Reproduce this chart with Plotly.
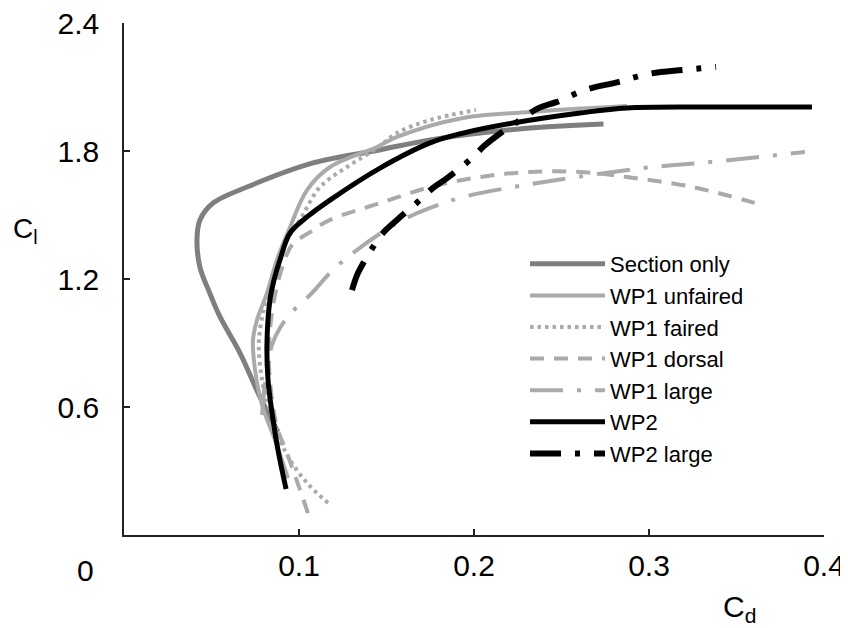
import plotly.graph_objects as go

# ---- data (Cd, Cl) ----
section_cd = [0.088, 0.0777, 0.0663, 0.0549, 0.049, 0.0434, 0.0417, 0.0434, 0.0509, 0.0703, 0.108, 0.146, 0.175, 0.232, 0.274]
section_cl = [0.483, 0.647, 0.853, 1.022, 1.134, 1.256, 1.383, 1.477, 1.556, 1.631, 1.744, 1.805, 1.852, 1.908, 1.927]

unfaired_cd = [0.0937, 0.0863, 0.0789, 0.0749, 0.0737, 0.076, 0.0817, 0.0874, 0.0949, 0.1046, 0.1177, 0.1446, 0.156, 0.1937, 0.232, 0.2874]
unfaired_cl = [0.267, 0.445, 0.609, 0.773, 0.914, 1.008, 1.134, 1.289, 1.444, 1.617, 1.725, 1.819, 1.866, 1.955, 1.983, 2.011]

faired_cd = [0.1166, 0.1046, 0.0949, 0.0891, 0.0834, 0.0789, 0.0771, 0.0812, 0.0874, 0.0931, 0.1006, 0.112, 0.1274, 0.1446, 0.156, 0.1749, 0.2011]
faired_cl = [0.15, 0.244, 0.352, 0.445, 0.586, 0.727, 0.914, 1.102, 1.266, 1.383, 1.477, 1.631, 1.725, 1.814, 1.884, 1.945, 1.992]

dorsal_cd = [0.1051, 0.1006, 0.0931, 0.0874, 0.0846, 0.0829, 0.0834, 0.0863, 0.0909, 0.096, 0.1063, 0.1177, 0.1463, 0.1749, 0.2034, 0.232, 0.2606, 0.2874, 0.3251, 0.3646]
dorsal_cl = [0.103, 0.211, 0.384, 0.506, 0.633, 0.788, 0.961, 1.125, 1.266, 1.359, 1.42, 1.477, 1.556, 1.631, 1.678, 1.702, 1.702, 1.678, 1.631, 1.547]

wp1large_cd = [0.0789, 0.0811, 0.0846, 0.0891, 0.096, 0.1063, 0.1194, 0.1331, 0.156, 0.1749, 0.1937, 0.2223, 0.2474, 0.2966, 0.3349, 0.3891]
wp1large_cl = [0.5625, 0.75, 0.891, 0.97, 1.045, 1.125, 1.242, 1.336, 1.4625, 1.533, 1.584, 1.631, 1.664, 1.72, 1.748, 1.795]

wp2_cd = [0.0926, 0.088, 0.0846, 0.0823, 0.0817, 0.0834, 0.0857, 0.0891, 0.0949, 0.1046, 0.1177, 0.1463, 0.1749, 0.1937, 0.2223, 0.2606, 0.2874, 0.3406, 0.3931]
wp2_cl = [0.216, 0.398, 0.572, 0.727, 0.9, 1.102, 1.195, 1.289, 1.416, 1.491, 1.57, 1.72, 1.838, 1.884, 1.931, 1.978, 2.002, 2.006, 2.006]

wp2large_cd = [0.1303, 0.1337, 0.1423, 0.148, 0.156, 0.1691, 0.1766, 0.1846, 0.1989, 0.2057, 0.2137, 0.2263, 0.2371, 0.2474, 0.2634, 0.2823, 0.2994, 0.3194, 0.3383]
wp2large_cl = [1.148, 1.228, 1.35, 1.416, 1.477, 1.57, 1.627, 1.673, 1.767, 1.823, 1.875, 1.945, 2.002, 2.03, 2.086, 2.123, 2.161, 2.18, 2.194]

x_ticks = [0.1, 0.2, 0.3, 0.4]
y_ticks = [0.6, 1.2, 1.8, 2.4]

FONT = "Liberation Sans, Arial, Helvetica, sans-serif"
LIGHT = "#aaaaaa"

series = [
    ("Section only", section_cd, section_cl, "#7f7f7f", 5, "solid"),
    ("WP1 unfaired", unfaired_cd, unfaired_cl, LIGHT, 4, "solid"),
    ("WP1 faired", faired_cd, faired_cl, LIGHT, 4, "3.5px,4px"),
    ("WP1 dorsal", dorsal_cd, dorsal_cl, LIGHT, 4, "14px,10px"),
    ("WP1 large", wp1large_cd, wp1large_cl, LIGHT, 4, "33px,14px,4px,14px"),
    ("WP2", wp2_cd, wp2_cl, "#000000", 5, "solid"),
    ("WP2 large", wp2large_cd, wp2large_cl, "#000000", 6, "31px,14px,5px,14px"),
]

fig = go.Figure()
for name, xs, ys, color, width, dash in series:
    fig.add_trace(go.Scatter(
        x=xs, y=ys, mode="lines", name=name,
        line=dict(color=color, width=width, dash=dash, shape="spline", smoothing=1.0),
    ))

axis_common = dict(
    showline=True, linecolor="#222222", linewidth=1.5,
    ticks="inside", ticklen=6, tickwidth=1.5, tickcolor="#222222",
    showgrid=False, zeroline=False, ticklabeloverflow="allow",
    tickfont=dict(family=FONT, size=30, color="#000000"),
)

fig.update_xaxes(range=[0, 0.4], tickvals=x_ticks, ticktext=["0.1", "0.2", "0.3", "0.4"],
                 ticklabelstandoff=3, **axis_common)
fig.update_yaxes(range=[0, 2.4], tickvals=y_ticks, ticktext=["0.6", "1.2", "1.8", "2.4"],
                 ticklabelstandoff=17, **axis_common)

# page body adds an 8px offset; plot area on screen: x 124..824, y 23..535
OFF = 8
L, R, T, B = 124 - OFF, 848 - 824 + OFF, 23 - OFF, 628 - 535 + OFF
PW, PH = 848 - L - R, 628 - T - B


def px(xs):  # screen x -> paper
    return (xs - OFF - L) / PW


def py(ys):  # screen y -> paper
    return (628 - B - (ys - OFF)) / PH


fig.update_layout(
    width=848, height=628,
    margin=dict(l=L, r=R, t=T, b=B, autoexpand=False),
    paper_bgcolor="white", plot_bgcolor="white",
    showlegend=True,
    legend=dict(
        x=px(525), y=py(243), xanchor="left", yanchor="top",
        font=dict(family=FONT, size=22, color="#000000"),
        itemwidth=75, bgcolor="rgba(0,0,0,0)", borderwidth=0,
        tracegroupgap=0,
    ),
    annotations=[
        dict(text="0", x=px(85), y=py(570), xref="paper", yref="paper",
             showarrow=False, xanchor="center", yanchor="middle",
             font=dict(family=FONT, size=30, color="#000000")),
        dict(text="C<sub>l</sub>", x=px(11), y=py(230), xref="paper", yref="paper",
             showarrow=False, xanchor="left", yanchor="middle",
             font=dict(family=FONT, size=28, color="#000000")),
        dict(text="C<sub>d</sub>", x=px(721), y=py(608), xref="paper", yref="paper",
             showarrow=False, xanchor="left", yanchor="middle",
             font=dict(family=FONT, size=30, color="#000000")),
    ],
)

fig.write_html("out.html")
